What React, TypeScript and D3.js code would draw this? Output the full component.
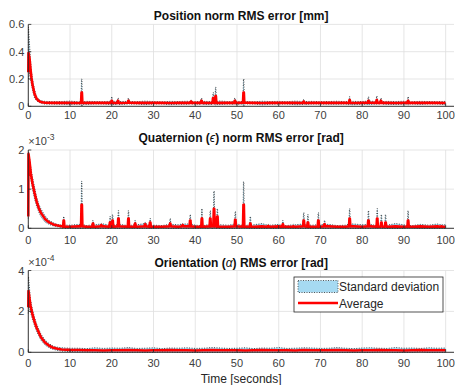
import React from "react";
import * as d3 from "d3";

// ---------- Data ----------
const X_TICKS = [0, 10, 20, 30, 40, 50, 60, 70, 80, 90, 100];

// Panel 1: Position norm RMS error [mm]
const P1_DECAY_T = [0, 0.05, 0.3, 0.5, 0.75, 1, 1.5, 2, 2.5, 3];
const P1_DECAY_MEAN = [0.25, 0.39, 0.35, 0.28, 0.21, 0.16, 0.09, 0.055, 0.04, 0.032];
const P1_DECAY_UPPER = [0.3, 0.58, 0.45, 0.35, 0.26, 0.2, 0.12, 0.07, 0.05, 0.042];
const P1_BASE_START = 4;
const P1_BASE_MEAN = [
  0.026, 0.025, 0.025, 0.026, 0.024, 0.025, 0.026, 0.025, 0.025, 0.024,
  0.026, 0.025, 0.025, 0.026, 0.025, 0.024, 0.025, 0.026, 0.025, 0.025,
  0.024, 0.026, 0.025, 0.025, 0.026, 0.025, 0.024, 0.025, 0.026, 0.025,
  0.025, 0.024, 0.026, 0.025, 0.025, 0.026, 0.025, 0.024, 0.025, 0.026,
  0.025, 0.025, 0.024, 0.026, 0.025, 0.025, 0.026, 0.025, 0.024,
];
const P1_BASE_UPPER = [
  0.036, 0.034, 0.035, 0.038, 0.033, 0.036, 0.035, 0.034, 0.037, 0.035,
  0.036, 0.034, 0.038, 0.035, 0.033, 0.036, 0.035, 0.037, 0.034, 0.036,
  0.035, 0.039, 0.034, 0.036, 0.035, 0.033, 0.037, 0.035, 0.036, 0.034,
  0.038, 0.035, 0.036, 0.034, 0.035, 0.037, 0.034, 0.036, 0.035, 0.038,
  0.034, 0.036, 0.035, 0.037, 0.034, 0.036, 0.035, 0.034, 0.036,
];
const P1_SPIKE_T = [12.8, 20, 21.5, 24, 39, 41.5, 44.3, 44.9, 49.5, 51.6, 66, 77, 81.5, 83.5, 84.5, 91];
const P1_SPIKE_MEAN = [0.1, 0.04, 0.04, 0.04, 0.035, 0.04, 0.06, 0.075, 0.04, 0.1, 0.035, 0.045, 0.04, 0.045, 0.04, 0.04];
const P1_SPIKE_UPPER = [0.2, 0.07, 0.06, 0.06, 0.045, 0.06, 0.1, 0.14, 0.06, 0.2, 0.05, 0.07, 0.07, 0.075, 0.06, 0.07];

// Panel 2: Quaternion norm RMS error [rad] (x 1e-3)
const P2_DECAY_T = [0, 0.05, 0.3, 0.6, 1, 1.5, 2, 2.5, 3, 4, 5, 6, 7, 8];
const P2_DECAY_MEAN = [0.3, 1.9, 1.7, 1.4, 1.15, 0.9, 0.68, 0.52, 0.4, 0.24, 0.15, 0.1, 0.07, 0.05];
const P2_DECAY_UPPER = [0.35, 1.95, 1.8, 1.55, 1.3, 1.05, 0.8, 0.62, 0.5, 0.32, 0.2, 0.14, 0.1, 0.08];
const P2_BASE_START = 10;
const P2_BASE_MEAN = [
  0.04, 0.05, 0.04, 0.04, 0.05, 0.04, 0.05, 0.04, 0.04, 0.05,
  0.04, 0.04, 0.05, 0.04, 0.05, 0.04, 0.04, 0.05, 0.04, 0.04,
  0.05, 0.04, 0.04, 0.05, 0.04, 0.05, 0.04, 0.04, 0.05, 0.04,
  0.04, 0.05, 0.04, 0.04, 0.05, 0.04, 0.05, 0.04, 0.04, 0.05,
  0.04, 0.04, 0.05, 0.04, 0.05, 0.04,
];
const P2_BASE_UPPER = [
  0.08, 0.1, 0.07, 0.09, 0.11, 0.08, 0.1, 0.07, 0.09, 0.12,
  0.08, 0.07, 0.1, 0.09, 0.11, 0.08, 0.07, 0.1, 0.09, 0.08,
  0.11, 0.07, 0.09, 0.12, 0.08, 0.1, 0.07, 0.09, 0.11, 0.08,
  0.09, 0.1, 0.07, 0.08, 0.11, 0.09, 0.1, 0.07, 0.08, 0.12,
  0.09, 0.07, 0.1, 0.08, 0.11, 0.09,
];
const P2_SPIKE_T = [
  8.5, 12.8, 15.5, 17.5, 19.6, 20.2, 21.6, 24, 25.6, 28,
  29.2, 34, 37, 38.8, 41.6, 43.6, 44.5, 45.3, 49.6, 51.6,
  53.2, 57.5, 61, 63.5, 66, 67, 69.5, 71, 77, 81.5,
  83.6, 84.6, 85.6, 91, 99,
];
const P2_SPIKE_MEAN = [
  0.2, 0.6, 0.12, 0.08, 0.15, 0.2, 0.25, 0.25, 0.12, 0.1,
  0.15, 0.12, 0.08, 0.2, 0.25, 0.25, 0.5, 0.3, 0.22, 0.6,
  0.12, 0.06, 0.1, 0.05, 0.2, 0.15, 0.2, 0.1, 0.25, 0.2,
  0.25, 0.15, 0.15, 0.2, 0.05,
];
const P2_SPIKE_UPPER = [
  0.3, 1.2, 0.2, 0.12, 0.3, 0.35, 0.45, 0.45, 0.2, 0.15,
  0.25, 0.25, 0.12, 0.35, 0.5, 0.45, 0.95, 0.5, 0.43, 1.19,
  0.3, 0.1, 0.2, 0.1, 0.4, 0.35, 0.4, 0.2, 0.5, 0.45,
  0.5, 0.35, 0.35, 0.45, 0.1,
];

// Panel 3: Orientation RMS error [rad] (x 1e-4)
const P3_DECAY_T = [0, 0.05, 0.5, 1, 1.5, 2, 3, 4, 5, 6, 7, 8, 10];
const P3_DECAY_MEAN = [2.2, 3.0, 2.3, 1.85, 1.5, 1.2, 0.75, 0.48, 0.32, 0.22, 0.17, 0.14, 0.12];
const P3_DECAY_UPPER = [2.5, 3.7, 2.6, 2.1, 1.7, 1.38, 0.9, 0.6, 0.42, 0.3, 0.25, 0.22, 0.2];
const P3_BASE_START = 12;
const P3_BASE_MEAN = [
  0.11, 0.1, 0.1, 0.09, 0.1, 0.1, 0.11, 0.1, 0.09, 0.1,
  0.1, 0.11, 0.1, 0.1, 0.09, 0.1, 0.11, 0.1, 0.1, 0.1,
  0.09, 0.1, 0.11, 0.1, 0.1, 0.1, 0.09, 0.11, 0.1, 0.1,
  0.1, 0.11, 0.1, 0.09, 0.1, 0.1, 0.11, 0.1, 0.1, 0.09,
  0.1, 0.11, 0.1, 0.1, 0.1,
];
const P3_BASE_UPPER = [
  0.2, 0.18, 0.22, 0.19, 0.21, 0.2, 0.23, 0.19, 0.2, 0.22,
  0.18, 0.21, 0.2, 0.22, 0.19, 0.2, 0.23, 0.21, 0.19, 0.2,
  0.22, 0.18, 0.21, 0.2, 0.23, 0.19, 0.2, 0.22, 0.21, 0.19,
  0.2, 0.23, 0.2, 0.18, 0.21, 0.22, 0.2, 0.19, 0.23, 0.2,
  0.21, 0.19, 0.22, 0.2, 0.21,
];
const P3_SPIKE_T: number[] = [];
const P3_SPIKE_MEAN: number[] = [];
const P3_SPIKE_UPPER: number[] = [];

const LEGEND_LABELS = ["Standard deviation", "Average"];

// ---------- Helpers ----------
type Pt = { t: number; m: number; u: number };

function buildSeries(
  dT: number[], dM: number[], dU: number[],
  bStart: number, bM: number[], bU: number[],
  sT: number[], sM: number[], sU: number[]
): Pt[] {
  const pts: Pt[] = [];
  dT.forEach((t, i) => pts.push({ t, m: dM[i], u: dU[i] }));
  bM.forEach((m, i) => {
    const t = bStart + 2 * i;
    if (sT.some((s) => Math.abs(s - t) < 0.3)) return;
    pts.push({ t, m, u: bU[i] });
  });
  sT.forEach((s, i) => {
    const k = Math.max(0, Math.min(bM.length - 1, Math.round((s - bStart) / 2)));
    const bm = bM[k];
    const bu = bU[k];
    pts.push({ t: s - 0.16, m: bm, u: bu });
    pts.push({ t: s - 0.05, m: sM[i], u: sU[i] });
    pts.push({ t: s + 0.05, m: sM[i], u: sU[i] });
    pts.push({ t: s + 0.16, m: bm, u: bu });
  });
  pts.sort((a, b) => a.t - b.t);
  return pts;
}

const FONT = "'Liberation Sans', Arial, Helvetica, sans-serif";
const AX = "#262626";
const TXT = "#404040";
const X0 = 28.3;
const X1 = 454;
const xScale = d3.scaleLinear().domain([0, 102]).range([X0, X1]);

type PanelProps = {
  data: Pt[];
  yMax: number;
  yTicks: number[];
  yTickFmt: (v: number) => string;
  top: number;
  bottom: number;
  title: React.ReactNode;
  titleY: number;
  exponent?: string;
  xLabelY: number;
};

function Panel(p: PanelProps) {
  const y = d3.scaleLinear().domain([0, p.yMax]).range([p.bottom, p.top]);
  const lo = (d: Pt) => Math.max(0, 2 * d.m - d.u);
  const area = d3
    .area<Pt>()
    .x((d) => xScale(d.t))
    .y0((d) => y(lo(d)))
    .y1((d) => y(d.u));
  const upper = d3.line<Pt>().x((d) => xScale(d.t)).y((d) => y(d.u));
  const lower = d3.line<Pt>().x((d) => xScale(d.t)).y((d) => y(lo(d)));
  const mean = d3.line<Pt>().x((d) => xScale(d.t)).y((d) => y(d.m));
  return (
    <g>
      {X_TICKS.map((t) => (
        <line key={"gx" + t} x1={xScale(t)} x2={xScale(t)} y1={p.top} y2={p.bottom} stroke="#dedede" strokeWidth={0.8} />
      ))}
      {p.yTicks.map((v) => (
        <line key={"gy" + v} x1={X0} x2={X1} y1={y(v)} y2={y(v)} stroke="#dedede" strokeWidth={0.8} />
      ))}
      <path d={area(p.data) || ""} fill="#a6daf2" stroke="none" />
      <path d={upper(p.data) || ""} fill="none" stroke="#333" strokeWidth={0.9} strokeDasharray="1,1.5" />
      <path d={lower(p.data) || ""} fill="none" stroke="#333" strokeWidth={0.9} strokeDasharray="1,1.5" />
      <path d={mean(p.data) || ""} fill="none" stroke="#ff0000" strokeWidth={2.6} strokeLinejoin="round" />
      <line x1={X0} x2={X0} y1={p.top} y2={p.bottom} stroke={AX} strokeWidth={0.9} />
      <line x1={X0} x2={X1} y1={p.bottom} y2={p.bottom} stroke={AX} strokeWidth={0.9} />
      {p.yTicks.map((v) => (
        <g key={"ty" + v}>
          <line x1={X0} x2={X0 + 3} y1={y(v)} y2={y(v)} stroke={AX} strokeWidth={0.8} />
          <text x={X0 - 4} y={y(v) + 4} textAnchor="end" fontSize={11} fill={TXT} fontFamily={FONT}>
            {p.yTickFmt(v)}
          </text>
        </g>
      ))}
      {X_TICKS.map((t) => (
        <g key={"tx" + t}>
          <line x1={xScale(t)} x2={xScale(t)} y1={p.bottom} y2={p.bottom - 3} stroke={AX} strokeWidth={0.8} />
          <text x={xScale(t)} y={p.xLabelY} textAnchor="middle" fontSize={11} fill={TXT} fontFamily={FONT}>
            {t}
          </text>
        </g>
      ))}
      {p.exponent && (
        <text x={X0} y={p.top - 5} fontSize={11} fill={TXT} fontFamily={FONT}>
          ×10
          <tspan dy={-5} fontSize={8.5}>{p.exponent}</tspan>
        </text>
      )}
      <text x={(X0 + X1) / 2} y={p.titleY} textAnchor="middle" fontSize={12} fontWeight="bold" fill="#111" fontFamily={FONT}>
        {p.title}
      </text>
    </g>
  );
}

export default function App() {
  const s1 = buildSeries(P1_DECAY_T, P1_DECAY_MEAN, P1_DECAY_UPPER, P1_BASE_START, P1_BASE_MEAN, P1_BASE_UPPER, P1_SPIKE_T, P1_SPIKE_MEAN, P1_SPIKE_UPPER);
  const s2 = buildSeries(P2_DECAY_T, P2_DECAY_MEAN, P2_DECAY_UPPER, P2_BASE_START, P2_BASE_MEAN, P2_BASE_UPPER, P2_SPIKE_T, P2_SPIKE_MEAN, P2_SPIKE_UPPER);
  const s3 = buildSeries(P3_DECAY_T, P3_DECAY_MEAN, P3_DECAY_UPPER, P3_BASE_START, P3_BASE_MEAN, P3_BASE_UPPER, P3_SPIKE_T, P3_SPIKE_MEAN, P3_SPIKE_UPPER);

  const legX = 294;
  const legY = 277;
  return (
    <svg width={455} height={385} style={{ position: "absolute", left: 0, top: 0, background: "#fff" }}>
      <rect width={455} height={385} fill="#fff" />
      <Panel data={s1} yMax={0.6} yTicks={[0, 0.2, 0.4, 0.6]} yTickFmt={(v) => (v === 0 ? "0" : v.toFixed(1))}
        top={24.4} bottom={106.3} title="Position norm RMS error [mm]" titleY={19.5} xLabelY={119} />
      <Panel data={s2} yMax={2} yTicks={[0, 1, 2]} yTickFmt={(v) => String(v)}
        top={150} bottom={228.3} title={<>Quaternion (<tspan fontStyle="italic" fontWeight="normal">ϵ</tspan>) norm RMS error [rad]</>}
        titleY={141.5} exponent="-3" xLabelY={244} />
      <Panel data={s3} yMax={4} yTicks={[0, 2, 4]} yTickFmt={(v) => String(v)}
        top={270.5} bottom={352.3} title={<>Orientation (<tspan fontStyle="italic" fontWeight="normal">α</tspan>) RMS error [rad]</>}
        titleY={266.5} exponent="-4" xLabelY={367} />
      <text x={(X0 + X1) / 2} y={382.5} textAnchor="middle" fontSize={12} fill="#262626" fontFamily={FONT}>
        Time [seconds]
      </text>
      <g>
        <rect x={legX} y={legY} width={149} height={35} fill="#fff" stroke={AX} strokeWidth={0.8} />
        <rect x={legX + 4} y={legY + 3.5} width={40} height={12} fill="#a6daf2" stroke="#333" strokeWidth={0.8} strokeDasharray="1,1.5" />
        <text x={legX + 45} y={legY + 14} fontSize={12} fill="#262626" fontFamily={FONT}>{LEGEND_LABELS[0]}</text>
        <line x1={legX + 4} x2={legX + 44} y1={legY + 26} y2={legY + 26} stroke="#ff0000" strokeWidth={2.6} />
        <text x={legX + 45} y={legY + 30.5} fontSize={12} fill="#262626" fontFamily={FONT}>{LEGEND_LABELS[1]}</text>
      </g>
    </svg>
  );
}
